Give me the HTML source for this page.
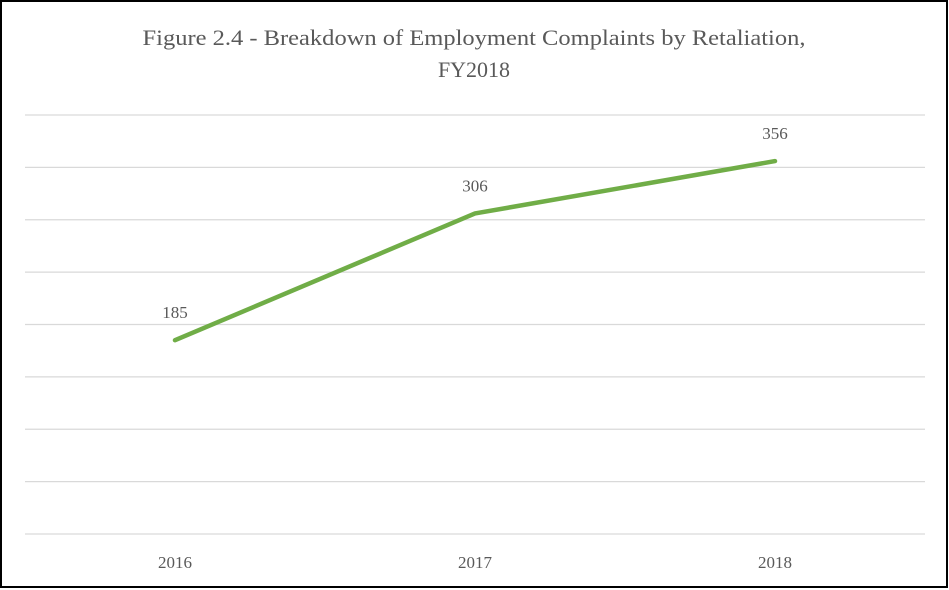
<!DOCTYPE html>
<html><head><meta charset="utf-8"><style>
html,body{margin:0;padding:0;background:#fff;}
svg{display:block;}
text{font-family:"Liberation Serif",serif;fill:#595959;}
</style></head><body>
<svg width="949" height="590">
<rect x="1" y="1" width="946" height="586" fill="#fff" stroke="#000" stroke-width="2"/>
<text x="474" y="45" text-anchor="middle" font-size="22" textLength="663" lengthAdjust="spacingAndGlyphs">Figure 2.4 - Breakdown of Employment Complaints by Retaliation,</text>
<text x="474" y="77" text-anchor="middle" font-size="22">FY2018</text>
<g id="grid"></g><g id="xl"></g><g id="series"></g>
</svg>
<script>
const categories=["2016","2017","2018"];
const values=[185,306,356];
const yTicks=[0,50,100,150,200,250,300,350,400];
const L=25,R=925,T=115,B=534,yMax=400;
const ns="http://www.w3.org/2000/svg";
function y(v){return B-(v/yMax)*(B-T);}
function x(i){return L+(i+0.5)*(R-L)/categories.length;}
function mk(t,a,p){const e=document.createElementNS(ns,t);for(const k in a)e.setAttribute(k,a[k]);p.appendChild(e);return e;}
const g=document.getElementById('grid');
yTicks.forEach(v=>{const l=mk('line',{x1:L,x2:R,y1:y(v),y2:y(v),stroke:'#d9d9d9','stroke-width':1.3},g);

});
const xl=document.getElementById('xl');
categories.forEach((c,i)=>{const t=mk('text',{x:x(i),y:568,'text-anchor':'middle','font-size':17},xl);t.textContent=c;

});
const s=document.getElementById('series');
const p=mk('polyline',{points:values.map((v,i)=>x(i)+','+y(v)).join(' '),fill:'none',stroke:'#70ad47','stroke-width':4.5,'stroke-linecap':'round','stroke-linejoin':'round'},s);


values.forEach((v,i)=>{const t=mk('text',{x:x(i),y:y(v)-22,'text-anchor':'middle','font-size':17},s);t.textContent=v;

});
</script>
</body></html>
